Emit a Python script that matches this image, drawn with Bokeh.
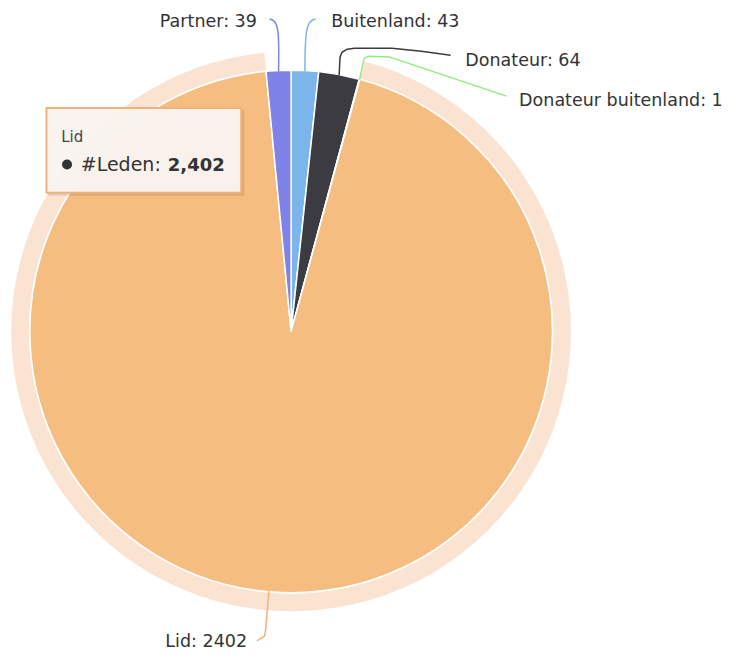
import math
from bokeh.plotting import figure
from bokeh.models import Range1d, ColumnDataSource
from bokeh.core.properties import value
from bokeh.embed import file_html
from bokeh.resources import INLINE

# ---- data ----
categories = ["Buitenland", "Donateur", "Donateur buitenland", "Lid", "Partner"]
values = [43, 64, 1, 2402, 39]
series_name = "#Leden"
hover_category = "Lid"

# ---- style ----
colors = ["#7cb5ec", "#3b3b41", "#90ed7d", "#f5bd80", "#7f83e8"]
connector_colors = ["#7cb5ec", "#3b3b41", "#90ed7d", "#f3b27a", "#7f83e8"]
FONT = "DejaVu Sans"
FS = "17.5px"

W, H = 728, 655
p = figure(width=W, height=H, x_range=Range1d(0, 744), y_range=Range1d(0, 671),
           output_backend="svg", toolbar_location=None, min_border=0)
p.axis.visible = False
p.grid.visible = False
p.outline_line_color = None
p.background_fill_color = "white"
p.border_fill_color = "white"


def Y(iy):
    return 671 - iy


cx, cy, R = 297, Y(339), 267
total = float(sum(values))
starts, ends, mids = [], [], []
cum = 0.0
for v in values:
    f0 = cum / total
    cum += v
    f1 = cum / total
    # clockwise from 12 o'clock
    starts.append(math.pi / 2 - 2 * math.pi * f1)
    ends.append(math.pi / 2 - 2 * math.pi * f0)
    mids.append(math.pi / 2 - math.pi * (f0 + f1))

hi = categories.index(hover_category)

# halo around hovered slice
p.annular_wedge(x=cx, y=cy, inner_radius=R + 1, outer_radius=R + 19,
                start_angle=starts[hi], end_angle=ends[hi],
                fill_color="#fbe3d1", line_color=None)

src = ColumnDataSource(dict(start=starts, end=ends, color=colors))
p.wedge(x=cx, y=cy, radius=R, start_angle="start", end_angle="end",
        fill_color="color", line_color="white", line_width=1.5, source=src)

# ---- connectors and labels (layout) ----
layout = {
    "Partner": dict(path=[(285, 30), (284, 20), (275, 19)], kind="bez",
                    label=(262, 21), align="right"),
    "Buitenland": dict(path=[(311, 30), (313, 20), (322, 19)], kind="bez",
                       label=(338, 21), align="left"),
    "Donateur": dict(path=[(347, 58), (349, 53), (354, 50), (362, 49), (400, 49),
                           (430, 52), (460, 56)], kind="poly",
                     label=(475, 61), align="left"),
    "Donateur buitenland": dict(path=[(371, 62), (372, 59), (376, 57), (398, 58),
                                      (517, 98)], kind="poly",
                                label=(530, 102), align="left"),
    "Lid": dict(path=[(271, 644), (270, 651), (262, 656)], kind="poly",
                label=(252, 656), align="right"),
}

for i, c in enumerate(categories):
    L = layout[c]
    ex = cx + R * math.cos(mids[i])
    ey = cy + R * math.sin(mids[i])
    col = connector_colors[i]
    if L["kind"] == "bez":
        (c0x, c0y), (c1x, c1y), (x1, y1) = L["path"]
        p.bezier(x0=ex, y0=ey, x1=x1, y1=Y(y1), cx0=c0x, cy0=Y(c0y),
                 cx1=c1x, cy1=Y(c1y), line_color=col, line_width=1.5)
    else:
        xs = [ex] + [pt[0] for pt in L["path"]]
        ys = [ey] + [Y(pt[1]) for pt in L["path"]]
        p.line(xs, ys, line_color=col, line_width=1.5)
    lx, ly = L["label"]
    p.text(x=[lx], y=[Y(ly)], text=[f"{c}: {values[i]}"], text_align=L["align"],
           text_baseline="middle", text_font=value(FONT), text_font_size=FS,
           text_color="#333333")

# ---- tooltip ----
tl, tr, tt, tb = 47, 246, 110, 197
p.quad(left=tl + 2, right=tr + 3, top=Y(tt + 2), bottom=Y(tb + 3),
       fill_color="black", fill_alpha=0.10, line_color=None)
p.quad(left=tl, right=tr, top=Y(tt), bottom=Y(tb),
       fill_color="#faf4ef", fill_alpha=0.97, line_color="#f1b27a", line_width=2)
p.text(x=[62], y=[Y(140)], text=[hover_category], text_baseline="middle",
       text_font=value(FONT), text_font_size="15px", text_color="#444444")
p.scatter(x=[68], y=[Y(168)], size=10, fill_color="#333333", line_color=None)
p.text(x=[82], y=[Y(168)], text=[f"{series_name}:"], text_baseline="middle",
       text_font=value(FONT), text_font_size="19px", text_color="#333333")
p.text(x=[171], y=[Y(168)], text=[f"{values[hi]:,}"], text_baseline="middle",
       text_font=value(FONT), text_font_size="18px", text_font_style="bold",
       text_color="#333333")

open("out.html", "w").write(file_html(p, INLINE))
